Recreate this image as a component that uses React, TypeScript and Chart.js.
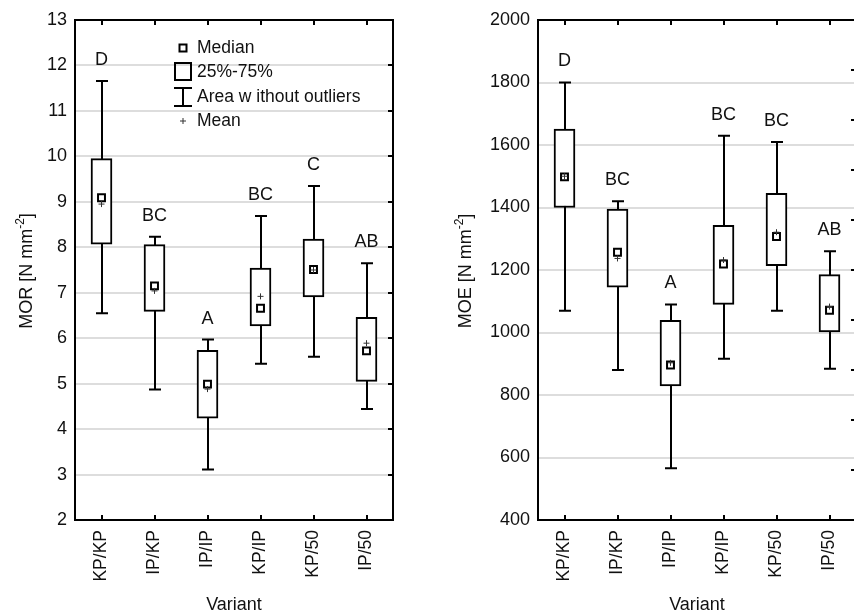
import React, { useEffect, useRef } from "react";
import { Chart, registerables } from "chart.js";

Chart.register(...registerables);

const variants = ["KP/KP", "IP/KP", "IP/IP", "KP/IP", "KP/50", "IP/50"];

// Modulus of rupture, N mm^-2
const morWhiskerLow = [6.55, 4.87, 3.11, 5.44, 5.59, 4.44];
const morQ1 = [8.07, 6.59, 4.24, 6.27, 6.91, 5.05];
const morMedian = [9.09, 7.15, 4.99, 6.66, 7.51, 5.72];
const morQ3 = [9.95, 8.06, 5.73, 7.54, 8.18, 6.46];
const morWhiskerHigh = [11.66, 8.23, 5.97, 8.69, 9.35, 7.65];
const morMean = [8.95, 7.04, 4.88, 6.92, 7.5, 5.89];
const morGroups = ["D", "BC", "A", "BC", "C", "AB"];
const morAxis = { min: 2, max: 13, step: 1 };

// Modulus of elasticity, N mm^-2
const moeWhiskerLow = [1070, 880, 566, 916, 1070, 884];
const moeQ1 = [1400, 1145, 829, 1090, 1214, 1002];
const moeMedian = [1498, 1257, 896, 1219, 1307, 1071];
const moeQ3 = [1651, 1395, 1039, 1343, 1445, 1185];
const moeWhiskerHigh = [1800, 1420, 1090, 1630, 1610, 1260];
const moeMean = [1500, 1237, 903, 1232, 1321, 1083];
const moeGroups = ["D", "BC", "A", "BC", "BC", "AB"];
const moeAxis = { min: 400, max: 2000, step: 200 };
const moeFrameTickStep = 160;

const legendLabels = ["Median", "25%-75%", "Area w ithout outliers", "Mean"];

const FONT = '"Liberation Sans", Arial, Helvetica, sans-serif';
const INK = "#111";

type Panel = {
  low: number[];
  q1: number[];
  median: number[];
  q3: number[];
  high: number[];
  mean: number[];
  groups: string[];
  axis: { min: number; max: number; step: number };
  frameTickStep?: number;
  title: [string, string, string];
  legend: boolean;
  width: number;
  yWidth: number;
  padRight: number;
  titleX: number;
};

function drawRotatedTitle(ctx: CanvasRenderingContext2D, cx: number, cy: number, parts: [string, string, string]) {
  const big = `18px ${FONT}`;
  const small = `12px ${FONT}`;
  ctx.save();
  ctx.translate(cx, cy);
  ctx.rotate(-Math.PI / 2);
  ctx.fillStyle = INK;
  ctx.textBaseline = "middle";
  ctx.textAlign = "left";
  ctx.font = big;
  const w1 = ctx.measureText(parts[0]).width;
  const w3 = ctx.measureText(parts[2]).width;
  ctx.font = small;
  const w2 = ctx.measureText(parts[1]).width;
  const x0 = -(w1 + w2 + w3) / 2;
  ctx.font = big;
  ctx.fillText(parts[0], x0, 0);
  ctx.font = small;
  ctx.fillText(parts[1], x0 + w1, -6);
  ctx.font = big;
  ctx.fillText(parts[2], x0 + w1 + w2, 0);
  ctx.restore();
}

function makeDecor(p: Panel) {
  return {
    id: "boxDecor",
    beforeDatasetsDraw(chart: any) {
      const { ctx } = chart;
      const x = chart.scales.x;
      const y = chart.scales.y;
      ctx.save();
      ctx.strokeStyle = "#000";
      ctx.lineWidth = 2;
      p.low.forEach((lo, i) => {
        const cx = Math.round(x.getPixelForValue(i));
        const yl = y.getPixelForValue(lo);
        const yh = y.getPixelForValue(p.high[i]);
        ctx.beginPath();
        ctx.moveTo(cx, yl);
        ctx.lineTo(cx, yh);
        ctx.moveTo(cx - 6, yl);
        ctx.lineTo(cx + 6, yl);
        ctx.moveTo(cx - 6, yh);
        ctx.lineTo(cx + 6, yh);
        ctx.stroke();
      });
      ctx.restore();
    },
    afterDraw(chart: any) {
      const { ctx, chartArea: a } = chart;
      const x = chart.scales.x;
      const y = chart.scales.y;
      ctx.save();
      // frame
      ctx.strokeStyle = "#000";
      ctx.lineWidth = 2;
      ctx.strokeRect(a.left, a.top, a.right - a.left, a.bottom - a.top);
      // inward ticks on top and bottom
      ctx.beginPath();
      variants.forEach((_, i) => {
        const cx = Math.round(x.getPixelForValue(i));
        ctx.moveTo(cx, a.top);
        ctx.lineTo(cx, a.top + 5);
        ctx.moveTo(cx, a.bottom);
        ctx.lineTo(cx, a.bottom - 5);
      });
      // inward ticks on the right edge
      const side = chart.scales.y1 || y;
      side.ticks.forEach((t: any) => {
        const ty = Math.round(side.getPixelForValue(t.value));
        ctx.moveTo(a.right, ty);
        ctx.lineTo(a.right - 5, ty);
      });
      ctx.stroke();

      // group letters above the upper whiskers
      ctx.fillStyle = INK;
      ctx.font = `18px ${FONT}`;
      ctx.textAlign = "center";
      ctx.textBaseline = "middle";
      p.groups.forEach((g, i) => {
        ctx.fillText(g, x.getPixelForValue(i), y.getPixelForValue(p.high[i]) - 21);
      });

      // axis titles
      ctx.fillText("Variant", (a.left + a.right) / 2, 605);
      drawRotatedTitle(ctx, p.titleX, (a.top + a.bottom) / 2 + 1, p.title);

      if (p.legend) {
        const lx = Math.round(a.left + 108);
        const ly = a.top;
        ctx.strokeStyle = "#000";
        ctx.lineWidth = 2;
        // median marker
        ctx.fillStyle = "#fff";
        ctx.fillRect(lx - 3.5, ly + 24.5, 7, 7);
        ctx.strokeRect(lx - 3.5, ly + 24.5, 7, 7);
        // box
        ctx.strokeRect(lx - 8, ly + 43, 16, 17);
        // whisker
        ctx.beginPath();
        ctx.moveTo(lx, ly + 68);
        ctx.lineTo(lx, ly + 86);
        ctx.moveTo(lx - 9, ly + 68);
        ctx.lineTo(lx + 9, ly + 68);
        ctx.moveTo(lx - 9, ly + 86);
        ctx.lineTo(lx + 9, ly + 86);
        ctx.stroke();
        // mean
        ctx.strokeStyle = "#333";
        ctx.lineWidth = 1;
        ctx.beginPath();
        ctx.moveTo(lx - 3, ly + 101);
        ctx.lineTo(lx + 3, ly + 101);
        ctx.moveTo(lx, ly + 98);
        ctx.lineTo(lx, ly + 104);
        ctx.stroke();
        ctx.fillStyle = INK;
        ctx.font = `17.5px ${FONT}`;
        ctx.textAlign = "left";
        const rows = [28, 52, 77, 101];
        legendLabels.forEach((t, i) => ctx.fillText(t, a.left + 122, ly + rows[i]));
      }
      ctx.restore();
    },
  };
}

function BoxPanel({ p }: { p: Panel }) {
  const ref = useRef<HTMLCanvasElement | null>(null);
  useEffect(() => {
    if (!ref.current) return;
    const scales: any = {
      x: {
        type: "category",
        labels: variants,
        offset: true,
        grid: { display: false, drawTicks: false },
        border: { display: false },
        ticks: {
          autoSkip: false,
          minRotation: 90,
          maxRotation: 90,
          padding: 10,
          color: INK,
          font: { family: FONT, size: 17.5 },
        },
        afterFit: (s: any) => {
          s.height = 94;
        },
      },
      y: {
        type: "linear",
        min: p.axis.min,
        max: p.axis.max,
        ticks: {
          stepSize: p.axis.step,
          padding: 8,
          color: INK,
          font: { family: FONT, size: 18 },
          callback: (v: any) => String(v),
        },
        grid: { color: "#dddddd", lineWidth: 2, drawTicks: false },
        border: { display: false },
        afterFit: (s: any) => {
          s.width = p.yWidth;
        },
      },
    };
    if (p.frameTickStep) {
      scales.y1 = {
        type: "linear",
        position: "right",
        min: p.axis.min,
        max: p.axis.max,
        ticks: { stepSize: p.frameTickStep, display: false },
        grid: { display: false, drawTicks: false },
        border: { display: false },
        afterFit: (s: any) => {
          s.width = 0;
        },
      };
    }
    const chart = new Chart(ref.current, {
      type: "bar",
      data: {
        labels: variants,
        datasets: [
          {
            type: "bar",
            data: p.q1.map((v, i) => [v, p.q3[i]]),
            backgroundColor: "#ffffff",
            borderColor: "#000000",
            borderWidth: 2,
            borderSkipped: false,
            barThickness: 21,
            order: 3,
          } as any,
          {
            type: "line",
            data: p.median,
            showLine: false,
            pointStyle: "rect",
            pointRadius: 4.9,
            pointBorderWidth: 2,
            pointBackgroundColor: "#ffffff",
            pointBorderColor: "#000000",
            order: 2,
          } as any,
          {
            type: "line",
            data: p.mean,
            showLine: false,
            pointStyle: "cross",
            pointRadius: 3,
            pointBorderWidth: 1,
            pointBorderColor: "#333333",
            order: 1,
          } as any,
        ],
      },
      options: {
        animation: false,
        responsive: false,
        devicePixelRatio: 1,
        layout: { padding: { top: 20, right: p.padRight, left: 0, bottom: 0 } },
        plugins: { legend: { display: false }, tooltip: { enabled: false }, title: { display: false } },
        scales,
      } as any,
      plugins: [makeDecor(p)],
    });
    return () => chart.destroy();
  }, [p]);
  return <canvas ref={ref} width={p.width} height={614} style={{ display: "block" }} />;
}

const morPanel: Panel = {
  low: morWhiskerLow,
  q1: morQ1,
  median: morMedian,
  q3: morQ3,
  high: morWhiskerHigh,
  mean: morMean,
  groups: morGroups,
  axis: morAxis,
  title: ["MOR [N mm", "-2", "]"],
  legend: true,
  width: 420,
  yWidth: 75,
  padRight: 27,
  titleX: 27,
};

const moePanel: Panel = {
  low: moeWhiskerLow,
  q1: moeQ1,
  median: moeMedian,
  q3: moeQ3,
  high: moeWhiskerHigh,
  mean: moeMean,
  groups: moeGroups,
  axis: moeAxis,
  frameTickStep: moeFrameTickStep,
  title: ["MOE [N mm", "-2", "]"],
  legend: false,
  width: 440,
  yWidth: 108,
  padRight: 14,
  titleX: 36,
};

export default function App() {
  return (
    <div
      style={{
        position: "fixed",
        left: 0,
        top: 0,
        width: 854,
        height: 614,
        overflow: "hidden",
        background: "#ffffff",
      }}
    >
      <div style={{ position: "absolute", left: 0, top: 0 }}>
        <BoxPanel p={morPanel} />
      </div>
      <div style={{ position: "absolute", left: 430, top: 0 }}>
        <BoxPanel p={moePanel} />
      </div>
    </div>
  );
}
